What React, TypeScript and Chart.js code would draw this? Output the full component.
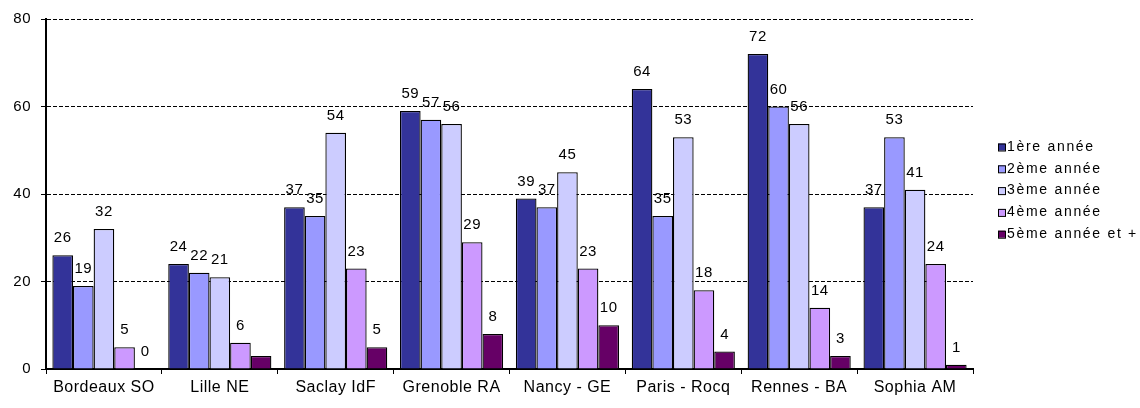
import React, { useEffect, useRef } from "react";
import { Chart, registerables } from "chart.js";

Chart.register(...registerables);

const categories = [
  "Bordeaux SO",
  "Lille NE",
  "Saclay IdF",
  "Grenoble RA",
  "Nancy - GE",
  "Paris - Rocq",
  "Rennes - BA",
  "Sophia AM",
];

const seriesNames = ["1ère année", "2ème année", "3ème année", "4ème année", "5ème année et +"];
const annee1 = [26, 24, 37, 59, 39, 64, 72, 37];
const annee2 = [19, 22, 35, 57, 37, 35, 60, 53];
const annee3 = [32, 21, 54, 56, 45, 53, 56, 41];
const annee4 = [5, 6, 23, 29, 23, 18, 14, 24];
const annee5 = [0, 3, 5, 8, 10, 4, 3, 1];
// labels not shown in the reference: [seriesIndex, categoryIndex]
const hiddenLabels = [[4, 1]];

const seriesColors = ["#333399", "#9999FF", "#CCCCFF", "#CC99FF", "#660066"];
const yTicks = [0, 20, 40, 60, 80];

const FONT = "'Liberation Sans', Arial, sans-serif";

const spacing = {
  id: "spacing",
  beforeDraw(chart: any) {
    try {
      (chart.ctx as any).letterSpacing = "0.5px";
    } catch (e) {}
  },
};

const valueLabels = {
  id: "valueLabels",
  afterDatasetsDraw(chart: any) {
    const ctx = chart.ctx;
    ctx.save();
    ctx.font = `15px ${FONT}`;
    ctx.fillStyle = "#000";
    ctx.textAlign = "center";
    ctx.textBaseline = "middle";
    chart.data.datasets.forEach((ds: any, di: number) => {
      const meta = chart.getDatasetMeta(di);
      meta.data.forEach((bar: any, i: number) => {
        if (hiddenLabels.some(([s, c]) => s === di && c === i)) return;
        ctx.fillText(String(ds.data[i]), bar.x, bar.y - 17);
      });
    });
    ctx.restore();
  },
};

const customLegend = {
  id: "customLegend",
  afterDraw(chart: any) {
    const ctx = chart.ctx;
    const area = chart.chartArea;
    ctx.save();
    ctx.font = `14px ${FONT}`;
    ctx.textAlign = "left";
    ctx.textBaseline = "middle";
    try {
      (ctx as any).letterSpacing = "1.7px";
    } catch (e) {}
    const x0 = area.right + 25;
    const y0 = area.top + 128;
    chart.data.datasets.forEach((ds: any, i: number) => {
      const y = y0 + i * 21.8;
      ctx.fillStyle = ds.backgroundColor;
      ctx.fillRect(x0, y - 3.5, 7, 7);
      ctx.strokeStyle = "#000";
      ctx.lineWidth = 1;
      ctx.strokeRect(x0 + 0.5, y - 3, 7, 7);
      ctx.fillStyle = "#000";
      ctx.fillText(ds.label, x0 + 9, y);
    });
    ctx.restore();
  },
};

export default function App() {
  const ref = useRef<HTMLCanvasElement>(null);

  useEffect(() => {
    document.body.style.margin = "0";
    const values = [annee1, annee2, annee3, annee4, annee5];
    const chart = new Chart(ref.current!, {
      type: "bar",
      data: {
        labels: categories,
        datasets: seriesNames.map((name, i) => ({
          label: name,
          data: values[i],
          backgroundColor: seriesColors[i],
          borderColor: "#000",
          borderWidth: 1.3,
          borderSkipped: "bottom",
          categoryPercentage: 0.89,
          barPercentage: 1,
        })),
      },
      options: {
        animation: false,
        responsive: false,
        devicePixelRatio: 1,
        layout: { padding: { top: 17, right: 167, left: 0, bottom: 0 } },
        plugins: {
          legend: { display: false },
          tooltip: { enabled: false },
          title: { display: false },
        },
        scales: {
          x: {
            offset: true,
            grid: {
              display: true,
              offset: true,
              drawOnChartArea: false,
              drawTicks: true,
              tickLength: 5,
              color: "#000",
              lineWidth: 1,
            },
            border: { display: true, color: "#000", width: 2 },
            ticks: {
              color: "#000",
              font: { family: FONT, size: 16 },
              padding: 4,
              maxRotation: 0,
              autoSkip: false,
            },
            afterFit(scale: any) {
              scale.height = 39;
            },
          },
          y: {
            min: 0,
            max: 80,
            afterBuildTicks(scale: any) {
              scale.ticks = yTicks.map((v) => ({ value: v }));
            },
            grid: {
              color: "#000",
              lineWidth: 1,
              drawTicks: true,
              tickLength: 5,
              tickBorderDash: [],
            },
            border: { display: true, color: "#000", width: 2, dash: [4, 2] },
            ticks: {
              color: "#000",
              font: { family: FONT, size: 15 },
              padding: 10,
            },
            afterFit(scale: any) {
              scale.width = 46;
            },
          },
        },
      },
      plugins: [spacing, valueLabels, customLegend],
    });
    return () => chart.destroy();
  }, []);

  return (
    <div style={{ width: 1140, height: 408 }}>
      <canvas ref={ref} width={1140} height={408} style={{ display: "block" }} />
    </div>
  );
}
